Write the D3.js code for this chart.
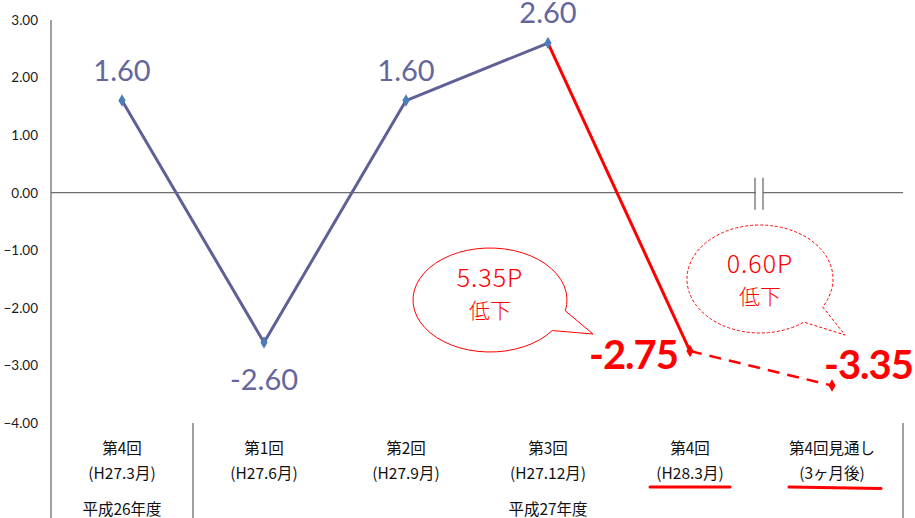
<!DOCTYPE html>
<html>
<head>
<meta charset="utf-8">
<script src="https://cdn.jsdelivr.net/npm/d3@7"></script>
<style>
  body { margin: 0; background: #fff; }
  svg { display: block; }
</style>
</head>
<body>
<div id="chart"></div>
<script>
// chart values
const rounds = ['第4回', '第1回', '第2回', '第3回', '第4回', '第4回見通し'];
const periods = ['(H27.3月)', '(H27.6月)', '(H27.9月)', '(H27.12月)', '(H28.3月)', '(3ヶ月後)'];
const values = [1.60, -2.60, 1.60, 2.60, -2.75, -3.35];
const yTicks = [3, 2, 1, 0, -1, -2, -3, -4];
const fiscalYears = [
  {label: '平成26年度', from: 0, to: 0},
  {label: '平成27年度', from: 1, to: 5}
];
const callouts = [
  {lines: ['5.35P', '低下'], dashed: false},
  {lines: ['0.60P', '低下'], dashed: true}
];

const width = 915, height = 518;
const purple = '#5f6096', red = '#ff0000';

const svg = d3.select('#chart')
  .append('svg')
  .attr('width', width)
  .attr('height', height);

// scales
const x = d3.scaleBand()
  .domain(d3.range(rounds.length))
  .range([51, 903])
  .padding(0);
const xc = i => x(i) + x.bandwidth() / 2;

const y = d3.scaleLinear()
  .domain([-4, 3])
  .range([423, 20]);

// y axis (labels only, no ticks)
const yAxis = svg.append('g')
  .attr('transform', 'translate(51,0)')
  .call(d3.axisLeft(y).tickValues(yTicks).tickFormat(d3.format('.2f')).tickSize(0).tickPadding(13));
yAxis.select('.domain').remove();
yAxis.selectAll('text')
  .style('font-family', 'Lato, "Liberation Sans", sans-serif')
  .style('font-size', '13.5px')
  .attr('fill', '#1a1a1a');

// vertical axis line, running down through the category area
svg.append('line')
  .attr('x1', 51).attr('x2', 51)
  .attr('y1', y(3)).attr('y2', height)
  .attr('stroke', '#6e6e6e').attr('stroke-width', 1.3);

// zero line
svg.append('line')
  .attr('x1', 51).attr('x2', x.range()[1])
  .attr('y1', y(0)).attr('y2', y(0))
  .attr('stroke', '#6e6e6e').attr('stroke-width', 1.3);

// axis break mark on the zero line
const bx = x(5) - 2;
svg.append('rect')
  .attr('x', bx - 3).attr('y', y(0) - 3)
  .attr('width', 7).attr('height', 6)
  .attr('fill', '#fff');
[bx - 4, bx + 4].forEach(px => {
  svg.append('line')
    .attr('x1', px).attr('x2', px)
    .attr('y1', y(0) - 15).attr('y2', y(0) + 17)
    .attr('stroke', '#6e6e6e').attr('stroke-width', 1.3);
});

// category separators below the plot
[x(1), x.range()[1]].forEach(px => {
  svg.append('line')
    .attr('x1', px).attr('x2', px)
    .attr('y1', y(-4)).attr('y2', height)
    .attr('stroke', '#6e6e6e').attr('stroke-width', 1.3);
});

// category labels
const catFont = '"Noto Sans CJK JP", "Noto Sans", sans-serif';
const cats = svg.append('g')
  .style('font-family', catFont)
  .style('font-size', '15.5px')
  .attr('fill', '#111')
  .attr('text-anchor', 'middle');
cats.selectAll('.round')
  .data(rounds)
  .join('text')
  .attr('x', (d, i) => xc(i))
  .attr('y', 454)
  .text(d => d);
cats.selectAll('.period')
  .data(periods)
  .join('text')
  .attr('x', (d, i) => xc(i))
  .attr('y', 479)
  .text(d => d);
cats.selectAll('.fy')
  .data(fiscalYears)
  .join('text')
  .attr('x', d => (x(d.from) + x(d.to) + x.bandwidth()) / 2)
  .attr('y', 515)
  .text(d => d.label);

// red underlines under the latest two periods
[[4, 0, 40, 0], [5, 1, 46, 3]].forEach(([i, tilt, half, shift]) => {
  svg.append('line')
    .attr('x1', xc(i) - half + shift).attr('x2', xc(i) + half + shift)
    .attr('y1', 487).attr('y2', 487 + tilt * 1.5)
    .attr('stroke', red).attr('stroke-width', 3)
    .attr('stroke-linecap', 'round');
});

// line segments
const pts = values.map((v, i) => [xc(i), y(v)]);
const line = d3.line();
svg.append('path')
  .attr('d', line(pts.slice(0, 4)))
  .attr('fill', 'none')
  .attr('stroke', purple).attr('stroke-width', 3)
  .attr('stroke-linejoin', 'round');
svg.append('path')
  .attr('d', line(pts.slice(3, 5)))
  .attr('fill', 'none')
  .attr('stroke', red).attr('stroke-width', 3);
svg.append('path')
  .attr('d', line(pts.slice(4, 6)))
  .attr('fill', 'none')
  .attr('stroke', red).attr('stroke-width', 2.5)
  .attr('stroke-dasharray', '12,8');

// markers
const diamond = d3.symbol().type(d3.symbolDiamond).size(45);
svg.selectAll('.marker')
  .data(values)
  .join('path')
  .attr('transform', (d, i) => `translate(${xc(i)},${y(d)})`)
  .attr('d', diamond)
  .attr('fill', (d, i) => i < 4 ? '#4a7ebb' : red);

// data labels
svg.selectAll('.vlabel')
  .data(values.slice(0, 4))
  .join('text')
  .attr('x', (d, i) => xc(i))
  .attr('y', d => d >= 0 ? y(d) - 20 : y(d) + 48)
  .attr('text-anchor', 'middle')
  .style('font-family', 'Lato, "Liberation Sans", sans-serif')
  .style('font-size', '29px')
  .attr('fill', '#65669c')
  .text(d => d.toFixed(2));

const redLabels = [
  {i: 4, dx: -12, dy: 18},
  {i: 5, dx: 81, dy: -7}
];
svg.selectAll('.rlabel')
  .data(redLabels)
  .join('text')
  .attr('x', d => xc(d.i) + d.dx)
  .attr('y', d => y(values[d.i]) + d.dy)
  .attr('text-anchor', 'end')
  .style('font-family', 'Lato, "Liberation Sans", sans-serif')
  .style('font-size', '40px')
  .style('font-weight', 'bold')
  .style('letter-spacing', '-1px')
  .attr('fill', red)
  .text(d => values[d.i].toFixed(2));

// callout bubbles
function bubble(cx, cy, rx, ry, t1, t2, tip) {
  const p = t => [cx + rx * Math.cos(t * Math.PI / 180), cy + ry * Math.sin(t * Math.PI / 180)];
  const a = p(t1), b = p(t2);
  return `M${a[0]},${a[1]} L${tip[0]},${tip[1]} L${b[0]},${b[1]} A${rx},${ry} 0 1 1 ${a[0]},${a[1]} Z`;
}
const bubbleGeo = [
  {cx: 490, cy: 300, rx: 77, ry: 52, t1: 12, t2: 36, tip: [593, 334], ty: 287},
  {cx: 760, cy: 279, rx: 73, ry: 54, t1: 31, t2: 53, tip: [845, 335], ty: 273}
];
callouts.forEach((c, k) => {
  const g = bubbleGeo[k];
  svg.append('path')
    .attr('d', bubble(g.cx, g.cy, g.rx, g.ry, g.t1, g.t2, g.tip))
    .attr('fill', '#fff')
    .attr('stroke', red).attr('stroke-width', 1)
    .attr('stroke-dasharray', c.dashed ? '3,2' : null);
  c.lines.forEach((t, j) => {
    svg.append('text')
      .attr('x', g.cx)
      .attr('y', g.ty + j * 31)
      .attr('text-anchor', 'middle')
      .style('font-family', catFont)
      .style('font-size', j === 0 ? '25px' : '21px')
      .style('font-weight', 300)
      .style('letter-spacing', j === 0 ? '1px' : '0px')
      .attr('fill', red)
      .text(t);
  });
});
</script>
</body>
</html>
